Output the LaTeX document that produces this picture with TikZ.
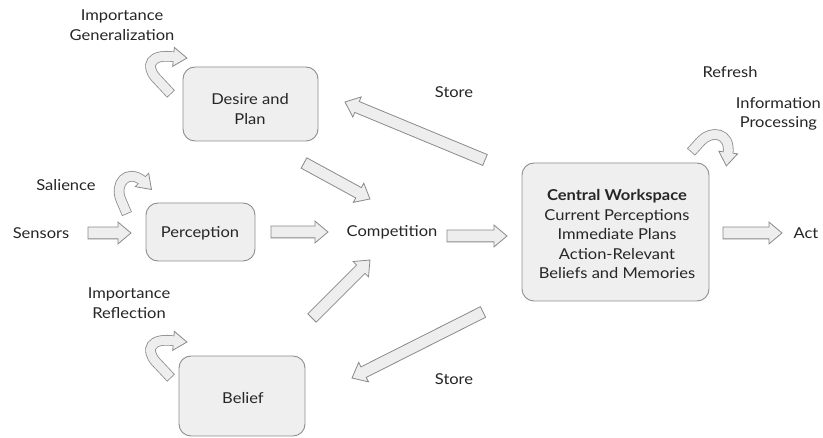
\documentclass[tikz,border=0pt]{standalone}
\usepackage{fontspec}
\setmainfont{Lato}[FakeStretch=1.1]
\usetikzlibrary{shapes.arrows,calc}
\definecolor{boxfill}{HTML}{EFEFEF}
\definecolor{boxedge}{HTML}{8E8E8E}
\definecolor{arfill}{HTML}{EEEEEE}
\definecolor{aredge}{HTML}{8A8A8A}
\definecolor{txt}{HTML}{262626}
\tikzset{
  box/.style={draw=boxedge, fill=boxfill, rounded corners=12pt, line width=0.9pt, inner sep=0pt},
  lbl/.style={text=txt, font=\fontsize{15}{19.5}\selectfont, align=center, inner sep=0pt},
  barrow/.style={single arrow, draw=aredge, fill=arfill, line width=0.8pt, inner sep=5.5pt, outer sep=0pt,
    single arrow head extend=5pt, single arrow tip angle=80, anchor=tail},
}
\newcommand\blockarrow[2]{%
  \path let \p1=(#1), \p2=(#2), \n1={atan2(\y2-\y1,\x2-\x1)}, \n2={veclen(\x2-\x1,\y2-\y1)} in
    (\p1) node[barrow, minimum height=\n2, rotate=\n1] {};}
\newcommand\curvearrow[3]{%
  \draw[line width=10.6pt, draw=aredge] #1;
  \draw[aredge, fill=arfill, line width=0.8pt, line join=miter, shift={#2}, rotate=#3]
    (-1.5,9.5) -- (12,0) -- (-1.5,-9.5) -- cycle;
  \draw[line width=9pt, draw=arfill, shorten <=0.8pt] #1;}
\begin{document}
\begin{tikzpicture}[x=1pt,y=-1pt]
\useasboundingbox (0,0) rectangle (823,438);
\fill[white] (0,0) rectangle (823,438);

% boxes
\node[box, minimum width=135pt, minimum height=74pt] (desire) at (250.5,104) {};
\node[box, minimum width=109pt, minimum height=58pt] (perc) at (200.5,232) {};
\node[box, minimum width=126pt, minimum height=80pt] (belief) at (242,396) {};
\node[box, minimum width=187pt, minimum height=138pt] (central) at (615.5,232) {};

% box texts
\node[lbl] (desiret) at (250,109) {Desire and\\Plan};
\node[lbl] (perct) at (200,233) {Perception};
\node[lbl] (belieft) at (243,398) {Belief};
\node[lbl] (centralt) at (617,234) {\textbf{Central Workspace}\\Current Perceptions\\Immediate Plans\\Action-Relevant\\Beliefs and Memories};

% free labels
\node[lbl] (gen) at (122,25) {Importance\\Generalization};
\node[lbl] (sal) at (66,185) {Salience};
\node[lbl] (sens) at (41,233) {Sensors};
\node[lbl] (refl) at (129,303) {Importance\\Reflection};
\node[lbl] (comp) at (392,232) {Competition};
\node[lbl] (store1) at (454,92) {Store};
\node[lbl] (store2) at (454,379) {Store};
\node[lbl] (refresh) at (730,72) {Refresh};
\node[lbl, anchor=east] (info) at (821,114) {Information\\Processing};
\node[lbl] (act) at (806,233) {Act};

% arrow end coordinates
\coordinate (a1s) at (88,233);  \coordinate (a1e) at (131,233);
\coordinate (a2s) at (271,232); \coordinate (a2e) at (328,232);
\coordinate (a3s) at (447,236); \coordinate (a3e) at (507,236);
\coordinate (a4s) at (723,233); \coordinate (a4e) at (782,233);
\coordinate (a5s) at (304,163); \coordinate (a5e) at (370,199);
\coordinate (a6s) at (312,318); \coordinate (a6e) at (370,260);
\coordinate (a7s) at (485,160); \coordinate (a7e) at (345,102);
\coordinate (a8s) at (483,312); \coordinate (a8e) at (352,378);

\blockarrow{a1s}{a1e}
\blockarrow{a2s}{a2e}
\blockarrow{a3s}{a3e}
\blockarrow{a4s}{a4e}
\blockarrow{a5s}{a5e}
\blockarrow{a6s}{a6e}
\blockarrow{a7s}{a7e}
\blockarrow{a8s}{a8e}

% curved self arrows
\curvearrow{(171,94) -- (156,78) .. controls (145,66) and (150,53) .. (175,57)}{(175,57)}{-5}
\curvearrow{(171,378) -- (156,362) .. controls (145,350) and (150,337) .. (175,341)}{(175,341)}{-5}
\curvearrow{(127,214) -- (121,200) .. controls (114,184) and (127,168) .. (143,181)}{(143,181)}{-45}
\curvearrow{(691,152) -- (701,141) .. controls (711,130) and (731,132) .. (728,154)}{(728,154)}{-98}
\end{tikzpicture}
\end{document}
